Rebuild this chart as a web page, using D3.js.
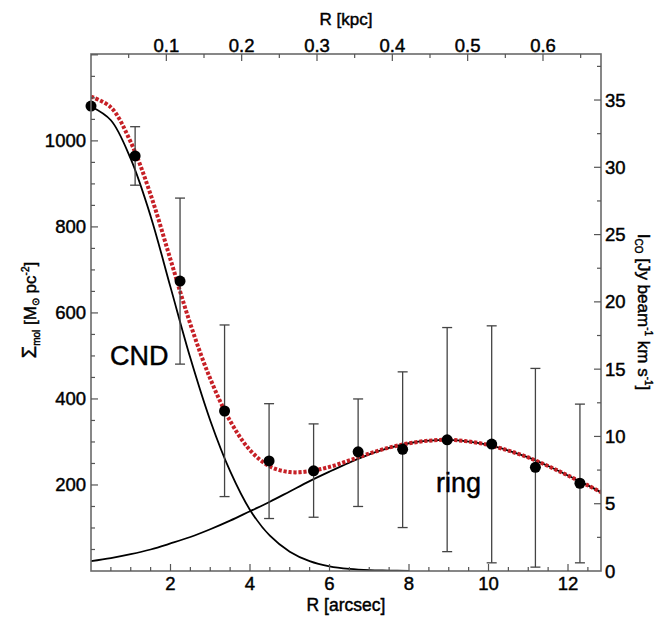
<!DOCTYPE html>
<html>
<head>
<meta charset="utf-8">
<script src="https://cdn.jsdelivr.net/npm/d3@7/dist/d3.min.js"></script>
<style>
  html, body { margin: 0; padding: 0; background: #fff; }
  svg { display: block; font-family: "Liberation Sans", Arial, Helvetica, sans-serif; }
  svg text { stroke: #000; stroke-width: 0.45px; }
</style>
</head>
<body>
<svg id="chart" width="657" height="619"></svg>
<script>
// ---- data ----
const radiusArcsec = [0, 1.11, 2.24, 3.36, 4.48, 5.60, 6.72, 7.84, 8.96, 10.08, 11.18, 12.30];
const sigmaMol     = [1081, 965, 674, 372, 256, 233, 277, 283, 305, 295, 241, 204];
const errLow       = [null, 897, 481, 173, 122, 125, 150, 101, 45, 19, 9, 19];
const errHigh      = [null, 1033, 867, 572, 389, 342, 400, 463, 566, 570, 471, 388];

const modelR     = [0,0.5,1,1.5,2,2.5,3,3.5,4,4.5,5,5.5,6,6.5,7,7.5,8,8.5,9,9.5,10,10.5,11,11.5,12,12.5,13];
const cndModel   = [1080,1048,958,825,660,495,350,232,142,82,45,23,11,5,2,1,0,0,0,0,0,0,0,0,0,0,0];
const ringModel  = [23,30,39,50,64,79,97,117,139,161,185,209,231,252,271,286,297,303,305,301,293,280,264,244,222,199,175];
const totalModel = [1103,1078,997,875,724,574,447,349,281,243,230,232,242,257,273,287,297,303,305,301,293,280,264,244,222,199,175];

const bottomTicks = [2, 4, 6, 8, 10, 12];
const topTicks    = [0.1, 0.2, 0.3, 0.4, 0.5, 0.6];
const leftTicks   = [200, 400, 600, 800, 1000];
const rightTicks  = [0, 5, 10, 15, 20, 25, 30, 35];

const annotations = [
  { text: "CND",  x: 0.48, y: 480 },
  { text: "ring", x: 8.68, y: 184 }
];

// ---- layout ----
const L = 91, R = 601, T = 54, B = 571;
const svg = d3.select("#chart");
svg.append("rect").attr("width", 657).attr("height", 619).attr("fill", "#fff");

const x  = d3.scaleLinear().domain([0, 12.83]).range([L, R]);
const xk = d3.scaleLinear().domain([0, 0.677]).range([L, R]);
const y  = d3.scaleLinear().domain([0, 1202]).range([B, T]);
const yr = d3.scaleLinear().domain([0, 38.42]).range([B, T]);

svg.append("clipPath").attr("id", "clip")
  .append("rect").attr("x", L).attr("y", T).attr("width", R - L).attr("height", B - T);

const plot = svg.append("g").attr("clip-path", "url(#clip)");

// model curves
const lineOf = vals => d3.line()
  .x((d, i) => x(modelR[i]))
  .y((d, i) => y(vals[i]))
  .curve(d3.curveCatmullRom.alpha(0.5));

const cndIdx = modelR.map((r, i) => i).filter(i => modelR[i] <= 8);
plot.append("path")
  .attr("d", d3.line().x(i => x(modelR[i])).y(i => y(cndModel[i])).curve(d3.curveCatmullRom.alpha(0.5))(cndIdx))
  .attr("fill", "none").attr("stroke", "#000").attr("stroke-width", 1.8);

plot.append("path")
  .attr("d", lineOf(ringModel)(modelR))
  .attr("fill", "none").attr("stroke", "#000").attr("stroke-width", 1.8);

plot.append("path")
  .attr("d", lineOf(totalModel)(modelR))
  .attr("fill", "none").attr("stroke", "#c62026").attr("stroke-width", 4)
  .attr("stroke-dasharray", "3.2 1.8");

// error bars
const capW = 5;
radiusArcsec.forEach((r, i) => {
  if (errLow[i] === null) return;
  const g = svg.append("g").attr("stroke", "#444").attr("stroke-width", 1.3);
  g.append("line").attr("x1", x(r)).attr("x2", x(r)).attr("y1", y(errLow[i])).attr("y2", y(errHigh[i]));
  g.append("line").attr("x1", x(r) - capW).attr("x2", x(r) + capW).attr("y1", y(errLow[i])).attr("y2", y(errLow[i]));
  g.append("line").attr("x1", x(r) - capW).attr("x2", x(r) + capW).attr("y1", y(errHigh[i])).attr("y2", y(errHigh[i]));
});

// points
svg.append("g").selectAll("circle").data(radiusArcsec).join("circle")
  .attr("cx", d => x(d)).attr("cy", (d, i) => y(sigmaMol[i])).attr("r", 5.5).attr("fill", "#000");

// frame
svg.append("rect").attr("x", L).attr("y", T).attr("width", R - L).attr("height", B - T)
  .attr("fill", "none").attr("stroke", "#6a6a6a").attr("stroke-width", 1.6);

// ticks
const tickG = svg.append("g").attr("stroke", "#555").attr("stroke-width", 1.2);
const MAJ = 7, MIN = 4;
d3.range(0.5, 12.83, 0.5).forEach(v => {
  const len = Math.abs(v - Math.round(v / 2) * 2) < 1e-6 ? MAJ : MIN;
  tickG.append("line").attr("x1", x(v)).attr("x2", x(v)).attr("y1", B).attr("y2", B - len);
});
d3.range(0.05, 0.677, 0.05).forEach(v => {
  const len = Math.abs(v * 10 - Math.round(v * 10)) < 1e-6 ? MAJ : MIN;
  tickG.append("line").attr("x1", xk(v)).attr("x2", xk(v)).attr("y1", T).attr("y2", T + len);
});
d3.range(50, 1202, 50).forEach(v => {
  const len = v % 200 === 0 ? MAJ : MIN;
  tickG.append("line").attr("x1", L).attr("x2", L + len).attr("y1", y(v)).attr("y2", y(v));
});
d3.range(2.5, 38.42, 2.5).forEach(v => {
  const len = v % 5 === 0 ? MAJ : MIN;
  tickG.append("line").attr("x1", R).attr("x2", R - len).attr("y1", yr(v)).attr("y2", yr(v));
});

// tick labels
const lab = svg.append("g").attr("fill", "#000").attr("font-size", 18.5);
bottomTicks.forEach(v => lab.append("text").attr("x", x(v)).attr("y", 590).attr("text-anchor", "middle").text(v));
topTicks.forEach(v => lab.append("text").attr("x", xk(v)).attr("y", 52).attr("text-anchor", "middle").text(d3.format(".1f")(v)));
leftTicks.forEach(v => lab.append("text").attr("x", 86).attr("y", y(v) + 6.5).attr("text-anchor", "end").text(v));
rightTicks.forEach(v => lab.append("text").attr("x", 605).attr("y", yr(v) + 6.5).attr("text-anchor", "start").text(v));

// axis titles
svg.append("text").attr("x", (L + R) / 2).attr("y", 25).attr("text-anchor", "middle")
  .attr("font-size", 17).text("R [kpc]");
svg.append("text").attr("x", (L + R) / 2).attr("y", 611).attr("text-anchor", "middle")
  .attr("font-size", 17.5).text("R [arcsec]");

const lt = svg.append("text").attr("transform", "translate(36,310) rotate(-90)")
  .attr("text-anchor", "middle").attr("font-size", 17);
lt.append("tspan").attr("font-size", 20).text("Σ");
lt.append("tspan").attr("font-size", 10).attr("dy", 4).text("mol");
lt.append("tspan").attr("dy", -4).text(" [M");
lt.append("tspan").attr("font-size", 10).attr("dy", 3).text("⊙");
lt.append("tspan").attr("dy", -3).text(" pc");
lt.append("tspan").attr("font-size", 10).attr("dy", -7).text("-2");
lt.append("tspan").attr("dy", 7).text("]");

const rt = svg.append("text").attr("transform", "translate(638,312) rotate(90)")
  .attr("text-anchor", "middle").attr("font-size", 17);
rt.append("tspan").text("I");
rt.append("tspan").attr("font-size", 10).attr("dy", 3).text("CO");
rt.append("tspan").attr("dy", -3).text(" [Jy beam");
rt.append("tspan").attr("font-size", 10).attr("dy", -7).text("-1");
rt.append("tspan").attr("dy", 7).text(" km s");
rt.append("tspan").attr("font-size", 10).attr("dy", -7).text("-1");
rt.append("tspan").attr("dy", 7).text("]");

// annotations
annotations.forEach(a => svg.append("text").attr("x", x(a.x)).attr("y", y(a.y))
  .attr("font-size", 27).attr("fill", "#000").text(a.text));
</script>
</body>
</html>
